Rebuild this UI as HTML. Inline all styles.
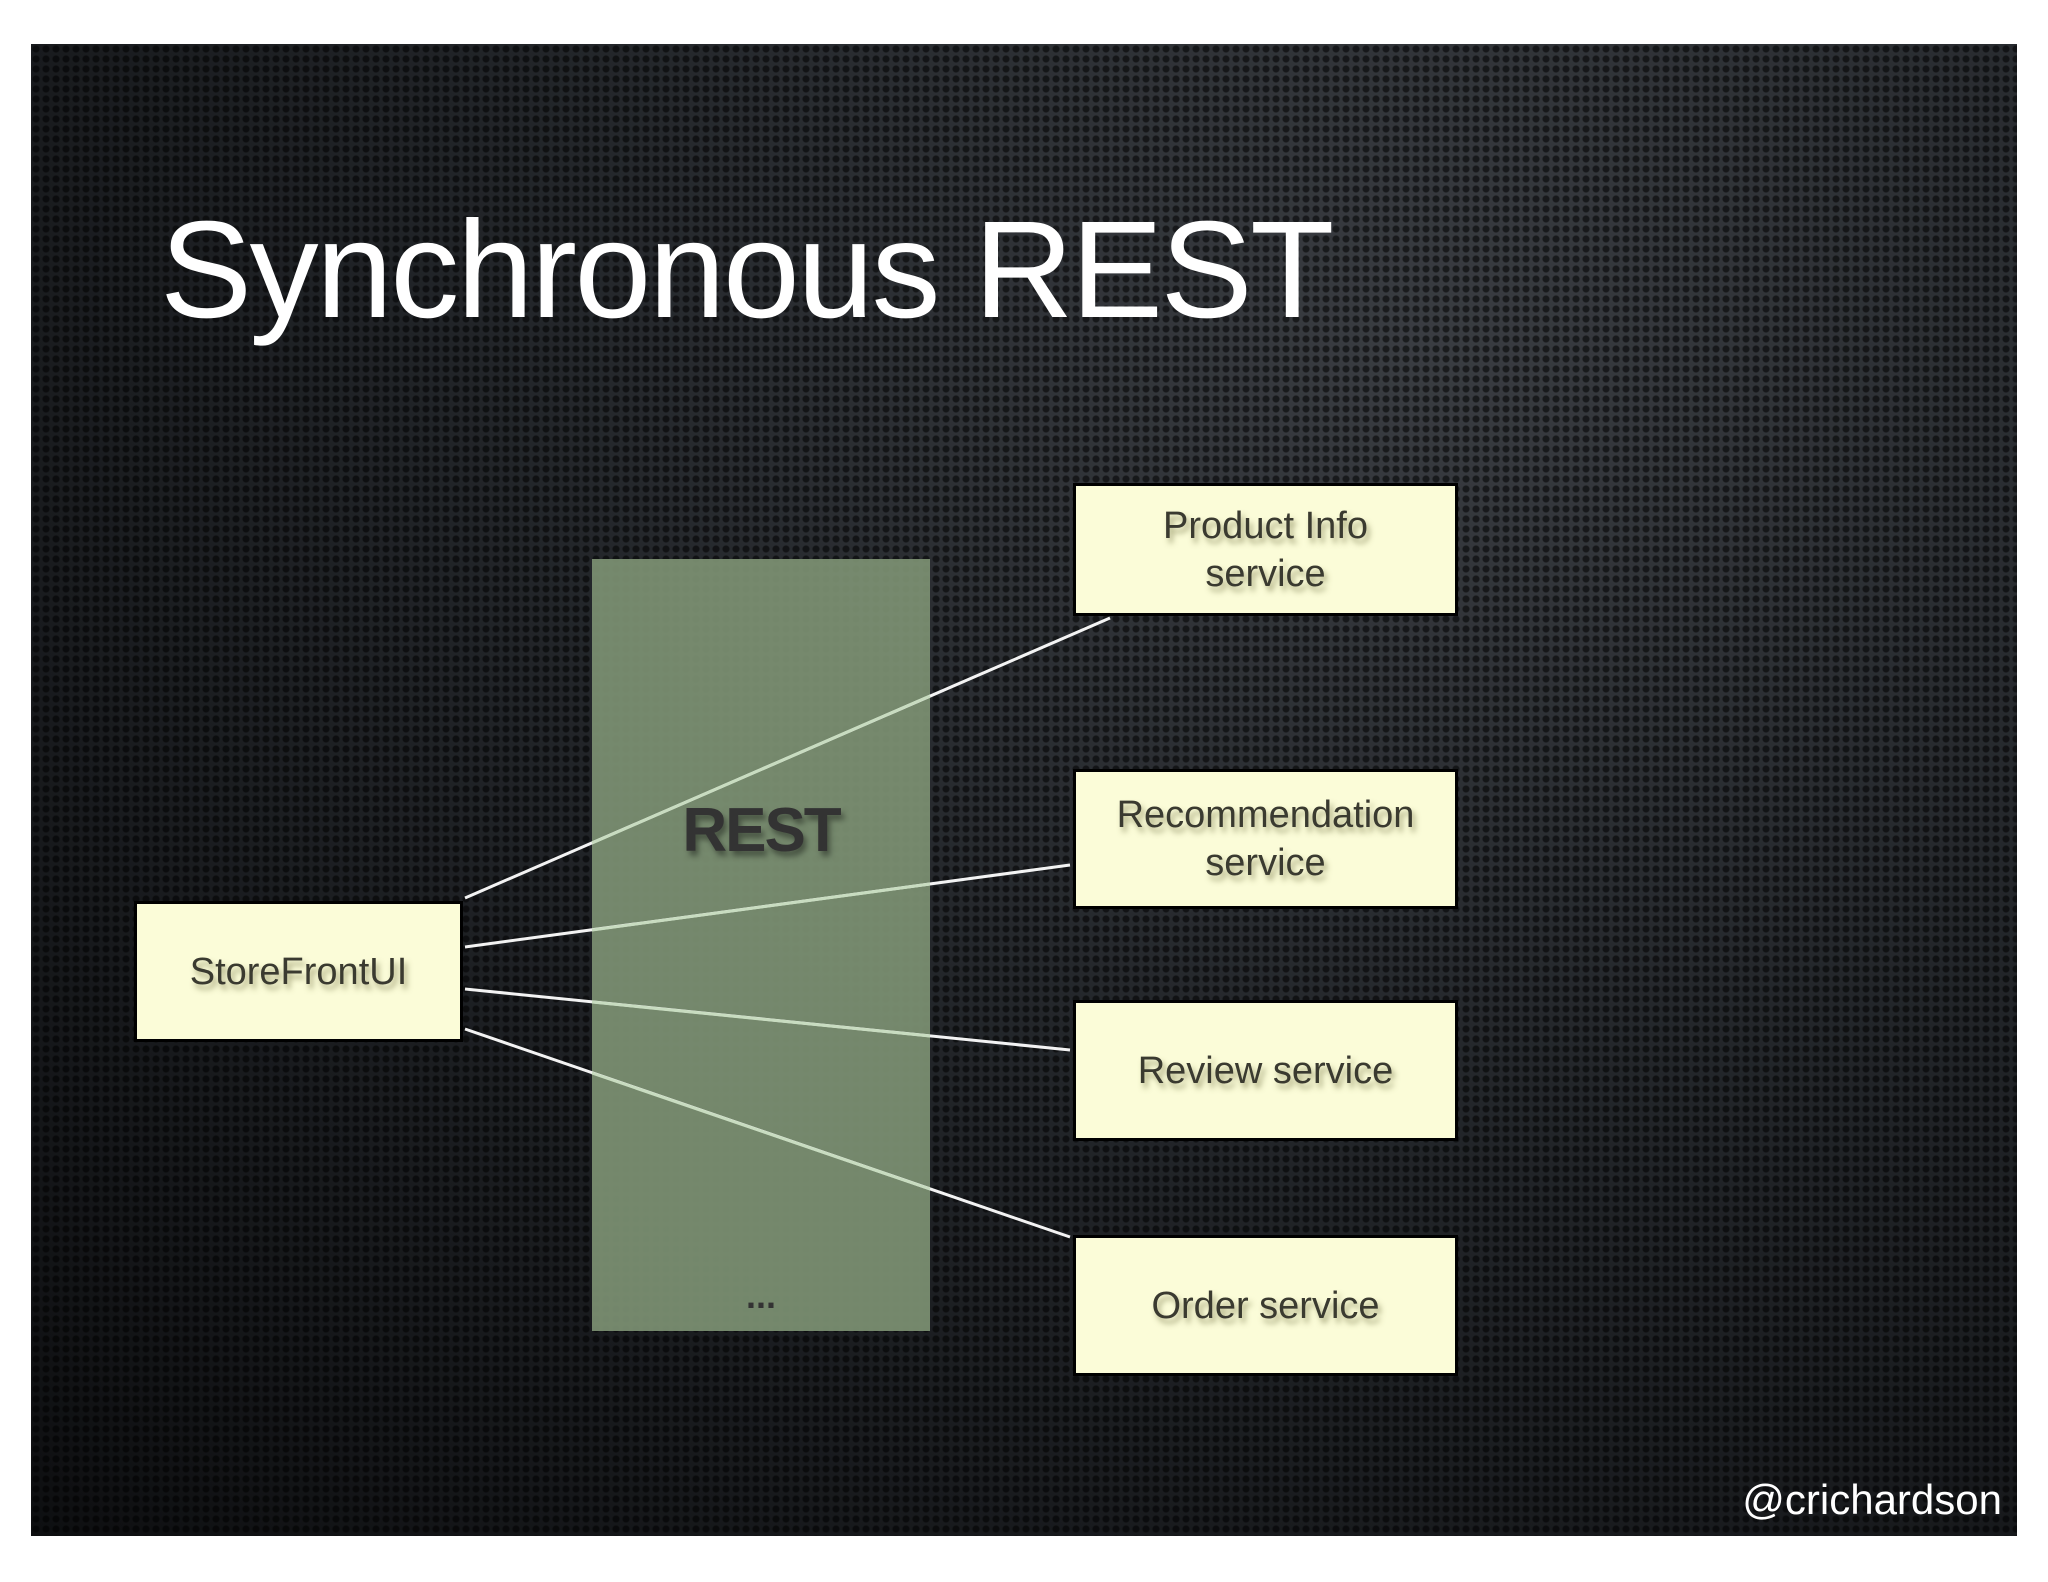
<!DOCTYPE html>
<html><head><meta charset="utf-8"><style>
html,body{margin:0;padding:0;background:#fff;width:2048px;height:1582px;overflow:hidden}
#slide{position:absolute;left:31px;top:44px;width:1986px;height:1492px;overflow:hidden;
background:radial-gradient(ellipse at 70% 20%,#3a3d42 0%,#23262a 45%,#0e0f11 100%);}
#dots{position:absolute;inset:0;background-image:radial-gradient(circle,rgba(0,0,0,0.55) 3px,transparent 4px);background-size:10px 10px}
.t{position:absolute;font-family:"Liberation Sans",sans-serif}
.box{position:absolute;background:#fbfcd8;border:3px solid #000;box-sizing:border-box;display:flex;align-items:center;justify-content:center;text-align:center;font-family:"Liberation Sans",sans-serif;font-size:38px;line-height:48px;color:#3a3a30;text-shadow:3px 5px 6px rgba(90,90,40,0.5)}
</style></head><body>
<div id="slide"><div id="dots"></div></div>
<div class="t" style="left:160px;top:190px;font-size:138px;color:#fff;letter-spacing:-2.5px;line-height:160px">Synchronous REST</div>
<div style="position:absolute;left:592px;top:559px;width:338px;height:772px;background:rgba(125,145,115,0.92)"></div>
<div class="t" style="left:592px;top:795px;width:338px;text-align:center;font-size:62px;font-weight:bold;letter-spacing:-2px;color:#333;text-shadow:3px 5px 6px rgba(0,0,0,0.4)">REST</div>
<div class="t" style="left:592px;top:1275px;width:338px;text-align:center;font-size:36px;color:#333;font-weight:bold">...</div>
<svg style="position:absolute;left:0;top:0" width="2048" height="1582">
<g stroke="#fff" stroke-width="3" opacity="0.95">
<line x1="465" y1="898" x2="1110" y2="618"/>
<line x1="465" y1="947" x2="1070" y2="865"/>
<line x1="465" y1="989" x2="1070" y2="1050"/>
<line x1="465" y1="1029" x2="1070" y2="1237"/>
</g>
<g stroke="#c8dcc0" stroke-width="3">
<line x1="592" y1="843" x2="930" y2="696"/>
<line x1="592" y1="930" x2="930" y2="884"/>
<line x1="592" y1="1002" x2="930" y2="1036"/>
<line x1="592" y1="1073" x2="930" y2="1189"/>
</g>
</svg>
<div class="box" style="left:134px;top:901px;width:329px;height:141px">StoreFrontUI</div>
<div class="box" style="left:1073px;top:483px;width:385px;height:133px">Product Info<br>service</div>
<div class="box" style="left:1073px;top:769px;width:385px;height:140px">Recommendation<br>service</div>
<div class="box" style="left:1073px;top:1000px;width:385px;height:141px">Review service</div>
<div class="box" style="left:1073px;top:1235px;width:385px;height:141px">Order service</div>
<div class="t" style="right:46px;top:1476px;font-size:42px;color:#fff">@crichardson</div>
</body></html>
